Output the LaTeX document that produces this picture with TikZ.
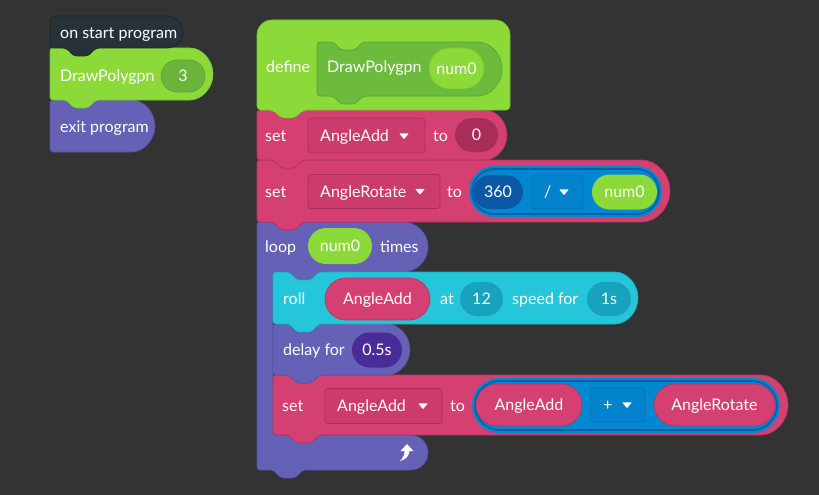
\documentclass[tikz,border=0pt]{standalone}
\usepackage{fontspec}
\setmainfont{Lato}
\usetikzlibrary{shapes.misc}

\definecolor{bg}{HTML}{333333}
\definecolor{hatc}{HTML}{263238}
\definecolor{hatd}{HTML}{1C2428}
\definecolor{lime}{HTML}{8BDA3A}
\definecolor{limed}{HTML}{7BC433}
\definecolor{limein}{HTML}{6CBB3C}
\definecolor{limeind}{HTML}{5EA735}
\definecolor{greenoval}{HTML}{6AB43C}
\definecolor{pinkc}{HTML}{D54072}
\definecolor{pinkd}{HTML}{B53361}
\definecolor{pinkbox}{HTML}{CB3B6C}
\definecolor{pinkboxd}{HTML}{A9305A}
\definecolor{pinkdark}{HTML}{A82E59}
\definecolor{purp}{HTML}{6561B6}
\definecolor{purpd}{HTML}{5551A2}
\definecolor{purpdark}{HTML}{492C98}
\definecolor{cyanc}{HTML}{26C6DA}
\definecolor{cyand}{HTML}{1DADC0}
\definecolor{cyanoval}{HTML}{17A3BD}
\definecolor{bluec}{HTML}{0288D1}
\definecolor{blued}{HTML}{0B5FA6}
\definecolor{bluedark}{HTML}{0D58A5}
\definecolor{bluebox}{HTML}{0383CB}
\definecolor{blueboxd}{HTML}{0A6DB2}

\tikzset{
  txt/.style={text=white, font=\fontsize{16pt}{19pt}\selectfont,
    inner sep=0pt, text height=11.5pt, text depth=0pt},
  lbl/.style={txt, anchor=west},
  pill/.style={txt, rounded rectangle, align=center},
  dropbox/.style={rectangle, rounded corners=3pt, fill=pinkbox, draw=pinkboxd,
    line width=0.7pt, inner sep=0pt},
  opbox/.style={rectangle, rounded corners=3pt, fill=bluebox, draw=blueboxd,
    line width=0.7pt, inner sep=0pt},
  hatblk/.style={fill=hatc, draw=hatd, line width=0.7pt},
  limeblk/.style={fill=lime, draw=limed, line width=0.7pt},
  innerblk/.style={fill=limein, draw=limeind, line width=0.8pt},
  pinkblk/.style={fill=pinkc, draw=pinkd, line width=0.7pt},
  purpblk/.style={fill=purp, draw=purpd, line width=0.7pt},
  cyanblk/.style={fill=cyanc, draw=cyand, line width=0.7pt},
}

% statement block with a round right end: notch on top, tab below  {style}{L}{T}{R}{B}
\newcommand\stmtNT[5]{%
  \draw[#1] (#2,{#3+10}) [rounded corners=3pt] -- (#2,#3) -- ({#2+16},#3)
    -- ({#2+24},{#3+8}) -- ({#2+38},{#3+8}) -- ({#2+46},#3)
    -- ({#4-(#5-#3)/2},#3) arc[start angle=-90, end angle=90, radius={(#5-#3)/2}]
    -- ({#2+46},#5)
    -- ({#2+38},{#5+8}) -- ({#2+24},{#5+8}) -- ({#2+16},#5) -- (#2,#5) -- cycle;}
% same, with a flat bottom
\newcommand\stmtNF[5]{%
  \draw[#1] (#2,{#3+10}) [rounded corners=3pt] -- (#2,#3) -- ({#2+16},#3)
    -- ({#2+24},{#3+8}) -- ({#2+38},{#3+8}) -- ({#2+46},#3)
    -- ({#4-(#5-#3)/2},#3) arc[start angle=-90, end angle=90, radius={(#5-#3)/2}]
    -- (#2,#5) -- cycle;}
% small dropdown triangle
\newcommand\ddtri[2]{%
  \fill[white, rounded corners=0.6pt] ({#1-4.8},{#2-2.6}) -- ({#1+4.8},{#2-2.6})
    -- (#1,{#2+3.2}) -- cycle;}

\begin{document}
\begin{tikzpicture}[x=1pt, y=1pt, yscale=-1]
\fill[bg] (0,0) rectangle (819,495);
\path[use as bounding box] (0,0) rectangle (819,495);

% ---------- start script ----------
\stmtNF{purpblk}{50}{100}{155}{152}
\stmtNT{limeblk}{50}{48}{213}{100}
\draw[hatblk] (50,30) [rounded corners=5pt] -- (50,16) -- (110,16)
  [rounded corners=16pt] -- (183,16) -- (183,48) -- (140,48)
  [rounded corners=3pt] -- (96,48) -- (88,56) -- (74,56) -- (66,48) -- (50,48) -- cycle;

\node[lbl] (hattxt) at (60,33) {on start program};
\node[lbl] (calltxt) at (60,75.5) {DrawPolygpn};
\node[pill, fill=greenoval, draw=limeind, line width=0.7pt,
  minimum width=44pt, minimum height=32pt] (arg3) at (183,76) {3};
\node[lbl] (exittxt) at (60,127) {exit program};

% ---------- loop (C block) ----------
\draw[purpblk] (257,235) [rounded corners=3pt] -- (257,222) -- (273,222)
  -- (281,230) -- (295,230) -- (303,222) -- (365,222)
  [rounded corners=25pt] -- (428,222) -- (428,272) -- (380,272)
  [rounded corners=3pt] -- (319,272) -- (311,280) -- (297,280) -- (289,272)
  -- (273,272) -- (273,435) -- (289,435) -- (297,443) -- (311,443) -- (319,435)
  -- (370,435) [rounded corners=17.5pt] -- (428,435) -- (428,470) -- (390,470)
  [rounded corners=3pt] -- (303,470) -- (295,478) -- (281,478) -- (273,470)
  -- (257,470) -- cycle;

% ---------- body blocks, lowest first ----------
\stmtNT{pinkblk}{273}{375}{788}{435}
\stmtNT{purpblk}{273}{324}{410}{375}
\stmtNT{cyanblk}{273}{272}{638}{324}
\stmtNT{pinkblk}{257}{160}{670}{222}
\stmtNT{pinkblk}{257}{110}{507}{160}

% ---------- define block ----------
\draw[fill=lime, draw=limed, line width=0.7pt] (257,70) [rounded corners=15pt]
  -- (257,20) -- (510,20) -- (510,60) [rounded corners=4pt] -- (510,110)
  -- (303,110) -- (295,118) -- (281,118) -- (273,110) -- (257,110) -- cycle;
\stmtNT{innerblk}{317}{42}{502}{96}

\node[lbl] (deftxt) at (266,67) {define};
\node[lbl] (defname) at (327,67) {DrawPolygpn};
\node[pill, fill=lime, draw=limed, line width=0.7pt,
  minimum width=55pt, minimum height=41pt] (defarg) at (456.5,68.5) {num0};

% ---------- set AngleAdd to 0 ----------
\node[lbl] (set1) at (265,136) {set};
\node[dropbox, minimum width=117pt, minimum height=35pt] (dd1) at (366.5,135.5) {};
\node[lbl] (dd1txt) at (320,136) {AngleAdd};
\ddtri{404}{136}
\node[lbl] (to1) at (433,136) {to};
\node[pill, fill=pinkdark, minimum width=43pt, minimum height=34pt] (zero) at (476.5,135) {0};

% ---------- set AngleRotate to 360 / num0 ----------
\node[lbl] (set2) at (265,191.5) {set};
\node[dropbox, minimum width=132pt, minimum height=34pt] (dd2) at (374,191.5) {};
\node[lbl] (dd2txt) at (320,191.5) {AngleRotate};
\ddtri{420}{191.5}
\node[lbl] (to2) at (447,191.5) {to};
\node[rounded rectangle, fill=bluec, inner sep=0pt,
  minimum width=193pt, minimum height=51pt] (div) at (565.5,191.5) {};
\node[rounded rectangle, draw=blued, line width=1.8pt, inner sep=0pt,
  minimum width=187pt, minimum height=45pt] (divring) at (565.5,191.5) {};
\node[pill, fill=bluedark, minimum width=50pt, minimum height=34pt] (n360) at (498,192) {360};
\node[opbox, minimum width=51pt, minimum height=34pt] (divop) at (557.5,192) {};
\node[lbl] (divsym) at (544,192) {/};
\ddtri{564}{192}
\node[pill, fill=lime, minimum width=65pt, minimum height=35pt] (divarg) at (624.5,192) {num0};

% ---------- loop header ----------
\node[lbl] (looptxt) at (265,246.5) {loop};
\node[pill, fill=lime, minimum width=64pt, minimum height=36pt] (looparg) at (340,246) {num0};
\node[lbl] (timestxt) at (380,246.5) {times};

% ---------- roll ----------
\node[lbl] (rolltxt) at (283,299) {roll};
\node[pill, fill=pinkc, draw=pinkd, line width=0.7pt,
  minimum width=105pt, minimum height=42pt] (rollvar) at (377.5,299) {AngleAdd};
\node[lbl] (attxt) at (440,299) {at};
\node[pill, fill=cyanoval, minimum width=43pt, minimum height=34pt] (speed) at (481.5,299) {12};
\node[lbl] (fortxt) at (512,299) {speed for};
\node[pill, fill=cyanoval, minimum width=44pt, minimum height=34pt] (dur) at (609,299) {1s};

% ---------- delay ----------
\node[lbl] (delaytxt) at (283,350) {delay for};
\node[pill, fill=purpdark, minimum width=50pt, minimum height=35pt] (delayval) at (377,350) {0.5s};

% ---------- set AngleAdd to AngleAdd + AngleRotate ----------
\node[lbl] (set3) at (282,406) {set};
\node[dropbox, minimum width=117pt, minimum height=35pt] (dd3) at (383.5,406) {};
\node[lbl] (dd3txt) at (337,406) {AngleAdd};
\ddtri{423}{406}
\node[lbl] (to3) at (450,406) {to};
\node[rounded rectangle, fill=bluec, inner sep=0pt,
  minimum width=308pt, minimum height=55pt] (sum) at (626,405.5) {};
\node[rounded rectangle, draw=blued, line width=1.8pt, inner sep=0pt,
  minimum width=302pt, minimum height=49pt] (sumring) at (626,405.5) {};
\node[pill, fill=pinkc, draw=pinkd, line width=0.7pt,
  minimum width=106pt, minimum height=42pt] (suma) at (529,405) {AngleAdd};
\node[opbox, minimum width=55pt, minimum height=34pt] (sumop) at (617.5,405) {};
\node[lbl] (sumsym) at (603,405) {+};
\ddtri{627}{405}
\node[pill, fill=pinkc, draw=pinkd, line width=0.7pt,
  minimum width=121pt, minimum height=42pt] (sumb) at (714.5,405) {AngleRotate};

% ---------- repeat arrow at the foot of the loop ----------
\fill[white] (407,444) -- (413.5,451) -- (409.5,451)
  .. controls (409,456) and (406,459.5) .. (400,461)
  .. controls (403,458) and (404.5,455) .. (404.5,451) -- (400.5,451) -- cycle;
\end{tikzpicture}
\end{document}
